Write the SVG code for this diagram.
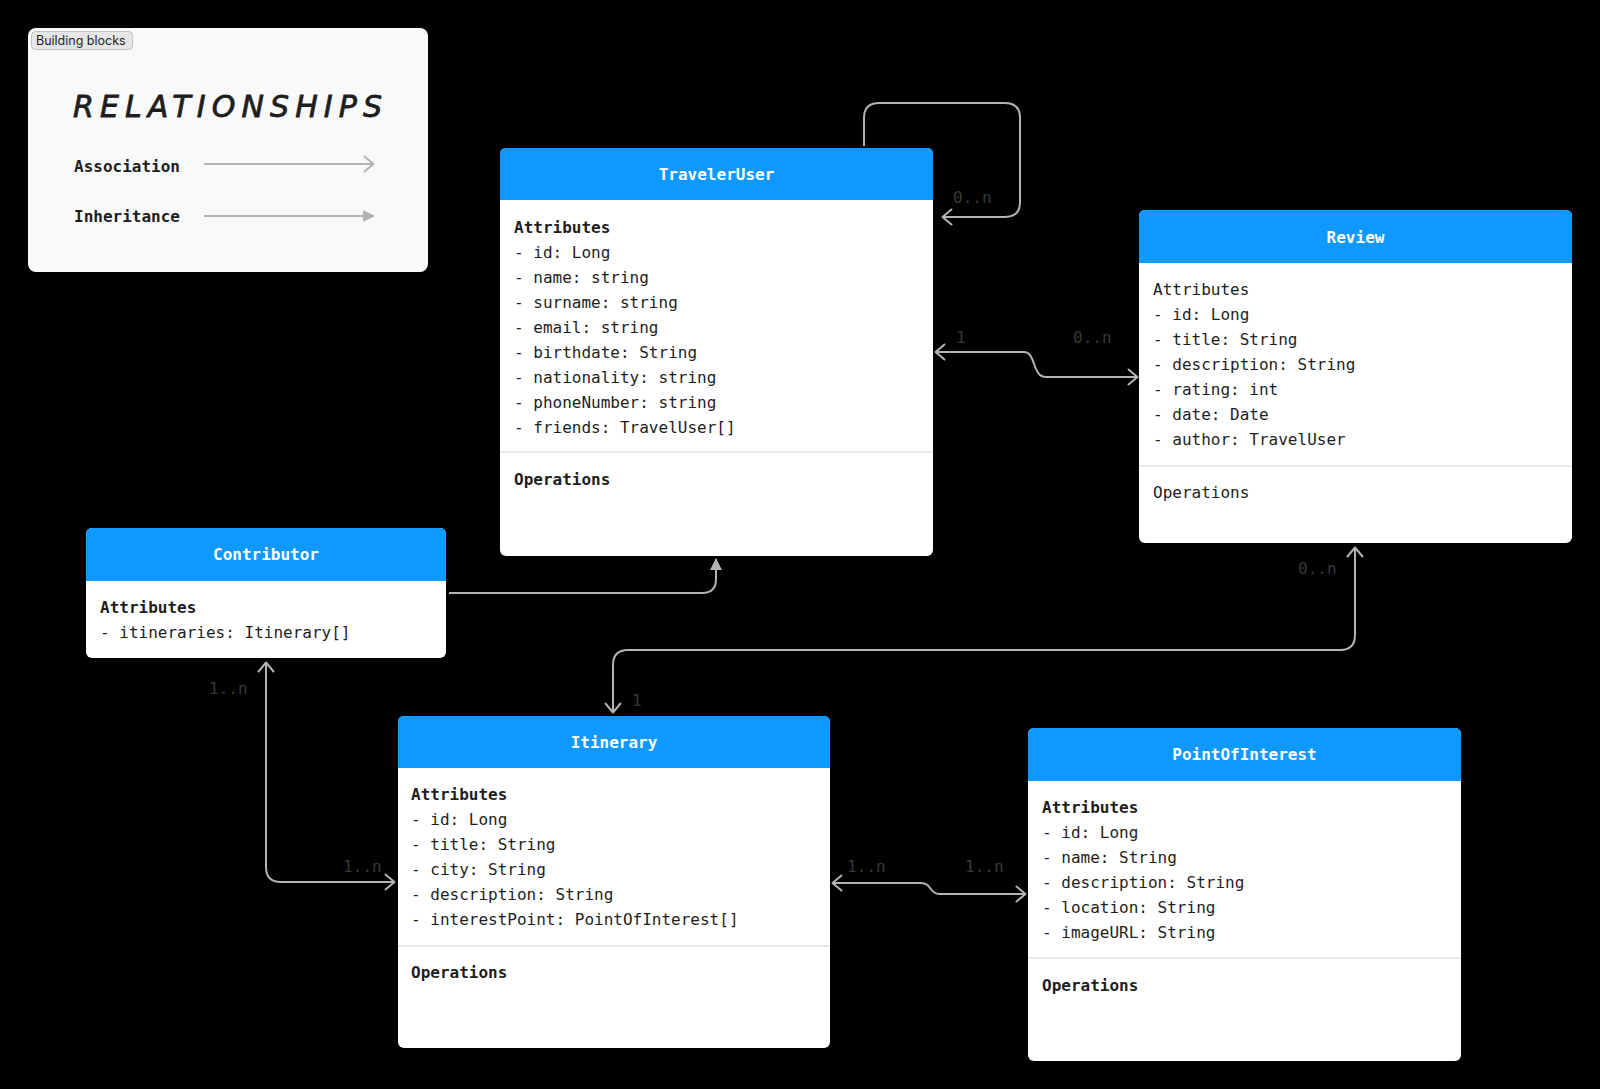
<svg xmlns="http://www.w3.org/2000/svg" width="1600" height="1089" viewBox="0 0 1600 1089">
<style>
.card{fill:#ffffff}
.hdr{fill:#0d99ff}
.title{font-family:"DejaVu Sans Mono","Liberation Mono",monospace;font-size:16px;font-weight:bold;fill:#ffffff;text-anchor:middle}
.t{font-family:"DejaVu Sans Mono","Liberation Mono",monospace;font-size:16px;fill:#1e1e1e}
.b{font-weight:bold}
.div{stroke:#e2e2e2;stroke-width:1.5}
.conn{fill:none;stroke:#b3b3b3;stroke-width:2}
.lbl{font-family:"DejaVu Sans Mono","Liberation Mono",monospace;font-size:16px;fill:#383838}
</style>
<defs>
<marker id="open" viewBox="0 0 12 18" markerWidth="12" markerHeight="18" refX="11" refY="9" orient="auto-start-reverse" markerUnits="userSpaceOnUse">
<path d="M1.5,1.5 L10.5,9 L1.5,16.5" fill="none" stroke="#b3b3b3" stroke-width="2" stroke-linecap="round" stroke-linejoin="round"/>
</marker>
<marker id="filled" viewBox="0 0 12 14" markerWidth="12" markerHeight="14" refX="11" refY="7" orient="auto-start-reverse" markerUnits="userSpaceOnUse">
<path d="M0,1 L12,7 L0,13 Z" fill="#b3b3b3"/>
</marker>
</defs>
<rect x="0" y="0" width="1600" height="1089" fill="#000000"/>

<g id="legend">
<rect x="28" y="28" width="400" height="244" rx="8" fill="#f9f9f9"/>
<rect x="31.5" y="31.5" width="101" height="18" rx="4" fill="#e6e6e6" stroke="#c2c2c2" stroke-width="1"/>
<text x="36" y="45" font-family="Inter,'Liberation Sans',sans-serif" font-size="12.5" fill="#1e1e1e">Building blocks</text>
<text x="73" y="117" font-family="'DejaVu Sans','Liberation Sans',sans-serif" font-style="italic" font-size="30" fill="#1e1e1e" stroke="#1e1e1e" stroke-width="0.8" textLength="309" lengthAdjust="spacing">RELATIONSHIPS</text>
<text x="74" y="172" class="t b">Association</text>
<line x1="204" y1="164" x2="374" y2="164" class="conn" marker-end="url(#open)"/>
<text x="74" y="222" class="t b">Inheritance</text>
<line x1="204" y1="216" x2="374" y2="216" class="conn" marker-end="url(#filled)"/>
</g>

<g id="connectors">
<path class="conn" d="M864,146 V118 Q864,103 879,103 H1005 Q1020,103 1020,118 V202 Q1020,217 1005,217 H942" marker-end="url(#open)"/>
<path class="conn" d="M935,352 H1024 C1036,352 1032,377 1046,377 H1138" marker-start="url(#open)" marker-end="url(#open)"/>
<path class="conn" d="M449,593 H702 Q716,593 716,579 V559" marker-end="url(#filled)"/>
<path class="conn" d="M1355,547 V635 Q1355,650 1340,650 H628 Q613,650 613,665 V713" marker-start="url(#open)" marker-end="url(#open)"/>
<path class="conn" d="M266,662 V867 Q266,882 281,882 H395" marker-start="url(#open)" marker-end="url(#open)"/>
<path class="conn" d="M832,883 H921 C932,883 929,894 940,894 H1026" marker-start="url(#open)" marker-end="url(#open)"/>
<text class="lbl" x="953" y="203">0..n</text>
<text class="lbl" x="956" y="343">1</text>
<text class="lbl" x="1073" y="343">0..n</text>
<text class="lbl" x="1298" y="574">0..n</text>
<text class="lbl" x="632" y="706">1</text>
<text class="lbl" x="209" y="694">1..n</text>
<text class="lbl" x="343" y="872">1..n</text>
<text class="lbl" x="847" y="872">1..n</text>
<text class="lbl" x="965" y="872">1..n</text>
</g>

<g id="TravelerUser">
<rect class="card" x="500" y="148" width="433" height="408" rx="6"/>
<path class="hdr" d="M500,200 V154 Q500,148 506,148 H927 Q933,148 933,154 V200 Z"/>
<text class="title" x="716.5" y="180">TravelerUser</text>
<text class="t b" x="514" y="233">Attributes</text>
<text class="t" x="514" y="258">- id: Long</text>
<text class="t" x="514" y="283">- name: string</text>
<text class="t" x="514" y="308">- surname: string</text>
<text class="t" x="514" y="333">- email: string</text>
<text class="t" x="514" y="358">- birthdate: String</text>
<text class="t" x="514" y="383">- nationality: string</text>
<text class="t" x="514" y="408">- phoneNumber: string</text>
<text class="t" x="514" y="433">- friends: TravelUser[]</text>
<line class="div" x1="500" y1="452" x2="933" y2="452"/>
<text class="t b" x="514" y="485">Operations</text>
</g>

<g id="Review">
<rect class="card" x="1139" y="210" width="433" height="333" rx="6"/>
<path class="hdr" d="M1139,263 V216 Q1139,210 1145,210 H1566 Q1572,210 1572,216 V263 Z"/>
<text class="title" x="1355.5" y="243">Review</text>
<text class="t" x="1153" y="295">Attributes</text>
<text class="t" x="1153" y="320">- id: Long</text>
<text class="t" x="1153" y="345">- title: String</text>
<text class="t" x="1153" y="370">- description: String</text>
<text class="t" x="1153" y="395">- rating: int</text>
<text class="t" x="1153" y="420">- date: Date</text>
<text class="t" x="1153" y="445">- author: TravelUser</text>
<line class="div" x1="1139" y1="466" x2="1572" y2="466"/>
<text class="t" x="1153" y="498">Operations</text>
</g>

<g id="Contributor">
<rect class="card" x="86" y="528" width="360" height="130" rx="6"/>
<path class="hdr" d="M86,581 V534 Q86,528 92,528 H440 Q446,528 446,534 V581 Z"/>
<text class="title" x="266" y="560">Contributor</text>
<text class="t b" x="100" y="613">Attributes</text>
<text class="t" x="100" y="638">- itineraries: Itinerary[]</text>
</g>

<g id="Itinerary">
<rect class="card" x="398" y="716" width="432" height="332" rx="6"/>
<path class="hdr" d="M398,768 V722 Q398,716 404,716 H824 Q830,716 830,722 V768 Z"/>
<text class="title" x="614" y="748">Itinerary</text>
<text class="t b" x="411" y="800">Attributes</text>
<text class="t" x="411" y="825">- id: Long</text>
<text class="t" x="411" y="850">- title: String</text>
<text class="t" x="411" y="875">- city: String</text>
<text class="t" x="411" y="900">- description: String</text>
<text class="t" x="411" y="925">- interestPoint: PointOfInterest[]</text>
<line class="div" x1="398" y1="946" x2="830" y2="946"/>
<text class="t b" x="411" y="978">Operations</text>
</g>

<g id="PointOfInterest">
<rect class="card" x="1028" y="728" width="433" height="333" rx="6"/>
<path class="hdr" d="M1028,781 V734 Q1028,728 1034,728 H1455 Q1461,728 1461,734 V781 Z"/>
<text class="title" x="1244.5" y="760">PointOfInterest</text>
<text class="t b" x="1042" y="813">Attributes</text>
<text class="t" x="1042" y="838">- id: Long</text>
<text class="t" x="1042" y="863">- name: String</text>
<text class="t" x="1042" y="888">- description: String</text>
<text class="t" x="1042" y="913">- location: String</text>
<text class="t" x="1042" y="938">- imageURL: String</text>
<line class="div" x1="1028" y1="958" x2="1461" y2="958"/>
<text class="t b" x="1042" y="991">Operations</text>
</g>
</svg>
